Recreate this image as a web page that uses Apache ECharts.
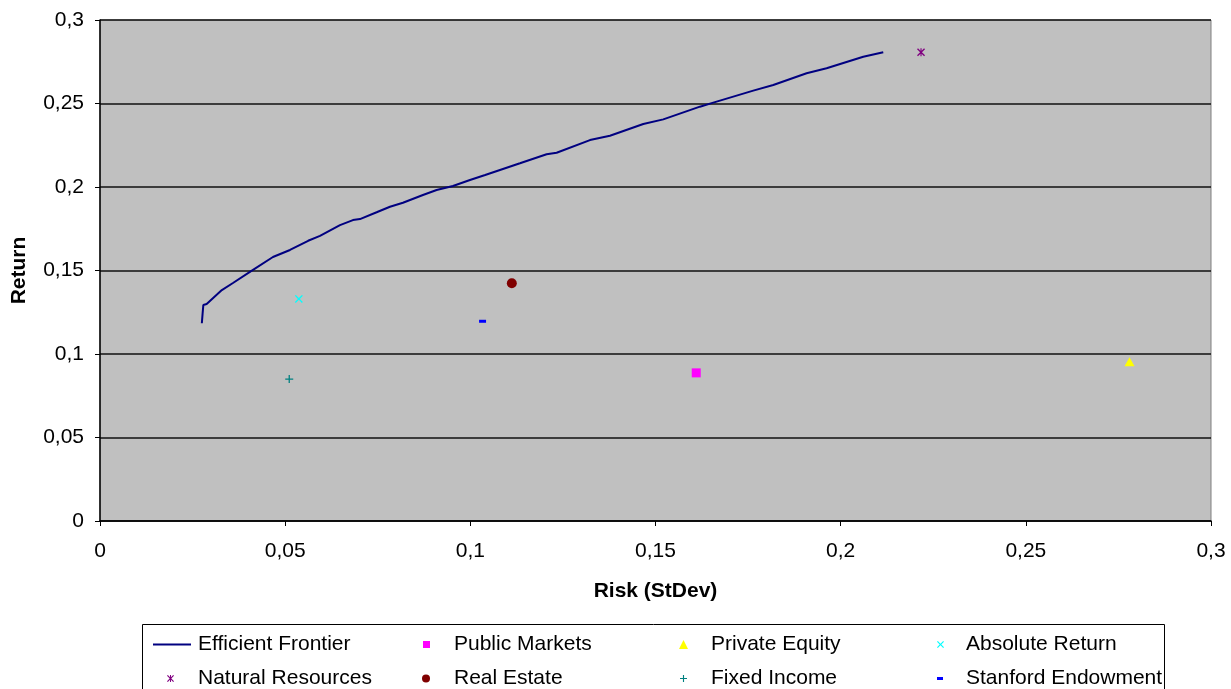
<!DOCTYPE html>
<html><head><meta charset="utf-8">
<script src="https://cdn.jsdelivr.net/npm/echarts@6/dist/echarts.min.js"></script>
<style>html,body{margin:0;padding:0;background:#fff}#c{width:1231px;height:689px}</style>
</head><body><div id="c"></div>
<script>
const frontierRisk = [0.0275, 0.0277, 0.0279, 0.0288, 0.0329, 0.0359, 0.0410, 0.0467, 0.0513, 0.0562, 0.0594, 0.0648, 0.0683, 0.0702, 0.0747, 0.0783, 0.0818, 0.0872, 0.0909, 0.0953, 0.0999, 0.1040, 0.1080, 0.1134, 0.1206, 0.1233, 0.1323, 0.1377, 0.1467, 0.1521, 0.1620, 0.1656, 0.1764, 0.1818, 0.1908, 0.1962, 0.2061, 0.2115];
const frontierReturn = [0.1184, 0.1240, 0.1293, 0.1299, 0.1383, 0.1425, 0.1499, 0.1581, 0.1623, 0.1678, 0.1707, 0.1772, 0.1802, 0.1808, 0.1849, 0.1882, 0.1906, 0.1952, 0.1982, 0.2006, 0.2042, 0.2072, 0.2102, 0.2142, 0.2196, 0.2205, 0.2281, 0.2307, 0.2377, 0.2405, 0.2481, 0.2505, 0.2577, 0.2611, 0.2681, 0.2711, 0.2780, 0.2807];
const assetNames = ['Public Markets', 'Private Equity', 'Absolute Return', 'Natural Resources', 'Real Estate', 'Fixed Income', 'Stanford Endowment'];
const assetRisk = [0.161, 0.278, 0.0537, 0.2217, 0.1112, 0.0511, 0.1033];
const assetReturn = [0.0887, 0.0954, 0.1330, 0.2807, 0.1424, 0.0850, 0.1196];
const axisMin = 0, axisMax = 0.3, axisStep = 0.05;

const FONT = 'Liberation Sans';
const FS = 21;
const X_PATH = 'path://M0,1.2 L1.2,0 L5,3.8 L8.8,0 L10,1.2 L6.2,5 L10,8.8 L8.8,10 L5,6.2 L1.2,10 L0,8.8 L3.8,5 Z';
const STAR_PATH = 'path://M0,1.2 L1.2,0 L4.3,3.1 L4.3,0 L5.7,0 L5.7,3.1 L8.8,0 L10,1.2 L6.2,5 L10,8.8 L8.8,10 L5.7,6.9 L5.7,10 L4.3,10 L4.3,6.9 L1.2,10 L0,8.8 L3.8,5 Z';
const PLUS_PATH = 'path://M4.2,0 H5.8 V4.2 H10 V5.8 H5.8 V10 H4.2 V5.8 H0 V4.2 H4.2 Z';
const DASH_PATH = 'path://M0,0 H7 V3 H0 Z';

const styles = {
  'Public Markets': {symbol: 'rect', size: 9, color: '#FF00FF', icon: 'rect', iw: 7, ih: 7},
  'Private Equity': {symbol: 'triangle', size: [10, 9], color: '#FFFF00', icon: 'triangle', iw: 9, ih: 9},
  'Absolute Return': {symbol: X_PATH, size: 8, color: '#00FFFF', icon: X_PATH, iw: 7, ih: 7},
  'Natural Resources': {symbol: STAR_PATH, size: 8, color: '#800080', icon: STAR_PATH, iw: 7, ih: 7},
  'Real Estate': {symbol: 'circle', size: 10, color: '#800000', icon: 'circle', iw: 8, ih: 8},
  'Fixed Income': {symbol: PLUS_PATH, size: 8, color: '#008080', icon: PLUS_PATH, iw: 7, ih: 7},
  'Stanford Endowment': {symbol: DASH_PATH, size: [7, 3], color: '#0000FF', icon: 'rect', iw: 6, ih: 3}
};

const fmt = v => String(+v.toFixed(2)).replace('.', ',');

const series = [{
  name: 'Efficient Frontier', type: 'line', symbol: 'none', smooth: false,
  data: frontierRisk.map((x, i) => [x, frontierReturn[i]]),
  lineStyle: {color: '#000080', width: 2}, itemStyle: {color: '#000080'}, z: 3
}];
assetNames.forEach((n, i) => {
  const s = styles[n];
  series.push({name: n, type: 'scatter', symbol: s.symbol, symbolSize: s.size,
    data: [[assetRisk[i], assetReturn[i]]], itemStyle: {color: s.color, opacity: 1}, z: 4});
});

// legend layout: 4 columns x 2 rows
const legendOrder = ['Efficient Frontier', 'Public Markets', 'Private Equity', 'Absolute Return',
  'Natural Resources', 'Real Estate', 'Fixed Income', 'Stanford Endowment'];
const colCenter = [170, 426, 683, 940];
const colText = [198, 454, 711, 966];
const rowCenter = [643, 677];
const legends = legendOrder.map((n, k) => {
  const col = k % 4, row = Math.floor(k / 4);
  let left, iw, ih, icon;
  if (n === 'Efficient Frontier') {
    left = 153; iw = 38; ih = 2; icon = 'rect';
  } else {
    const s = styles[n];
    iw = s.iw; ih = s.ih; icon = s.icon;
    left = Math.round(colCenter[col] - iw / 2);
  }
  const pad = colText[col] - (left + iw + 5);
  return {data: [{name: n, icon: icon}], left: left, top: rowCenter[row] - 9,
    itemWidth: iw, itemHeight: ih, padding: 0, itemGap: 0, selectedMode: false,
    textStyle: {fontFamily: FONT, fontSize: FS, color: '#000', padding: [0, 0, 0, pad]}};
});

const chart = echarts.init(document.getElementById('c'), null, {renderer: 'canvas'});
chart.setOption({
  animation: false,
  backgroundColor: '#fff',
  grid: {left: 100, right: 20, top: 20, bottom: 168, show: true, backgroundColor: '#C0C0C0',
    borderColor: '#808080', borderWidth: 1},
  xAxis: {type: 'value', min: axisMin, max: axisMax, interval: axisStep,
    name: 'Risk (StDev)', nameLocation: 'middle', nameGap: 60,
    nameTextStyle: {fontFamily: FONT, fontSize: FS, fontWeight: 'bold', color: '#000'},
    axisLine: {show: true, onZero: false, lineStyle: {color: '#000', width: 1.5}},
    axisTick: {show: true, inside: false, length: 5, lineStyle: {color: '#000'}},
    axisLabel: {formatter: fmt, margin: 20, fontFamily: FONT, fontSize: FS, color: '#000'},
    splitLine: {show: false}},
  yAxis: {type: 'value', min: axisMin, max: axisMax, interval: axisStep,
    name: 'Return', nameLocation: 'middle', nameGap: 70, nameRotate: 90,
    nameTextStyle: {fontFamily: FONT, fontSize: FS, fontWeight: 'bold', color: '#000'},
    axisLine: {show: true, onZero: false, lineStyle: {color: '#000', width: 1.5}},
    axisTick: {show: true, inside: false, length: 5, lineStyle: {color: '#000'}},
    axisLabel: {formatter: fmt, margin: 16, fontFamily: FONT, fontSize: FS, color: '#000'},
    splitLine: {show: true, lineStyle: {color: '#111', width: 1.5}}},
  legend: legends,
  graphic: [{type: 'rect', left: 142, top: 624, shape: {width: 1022, height: 80},
    style: {fill: '#fff', stroke: '#000', lineWidth: 1}, z: -1, silent: true}],
  series: series
});
</script></body></html>
